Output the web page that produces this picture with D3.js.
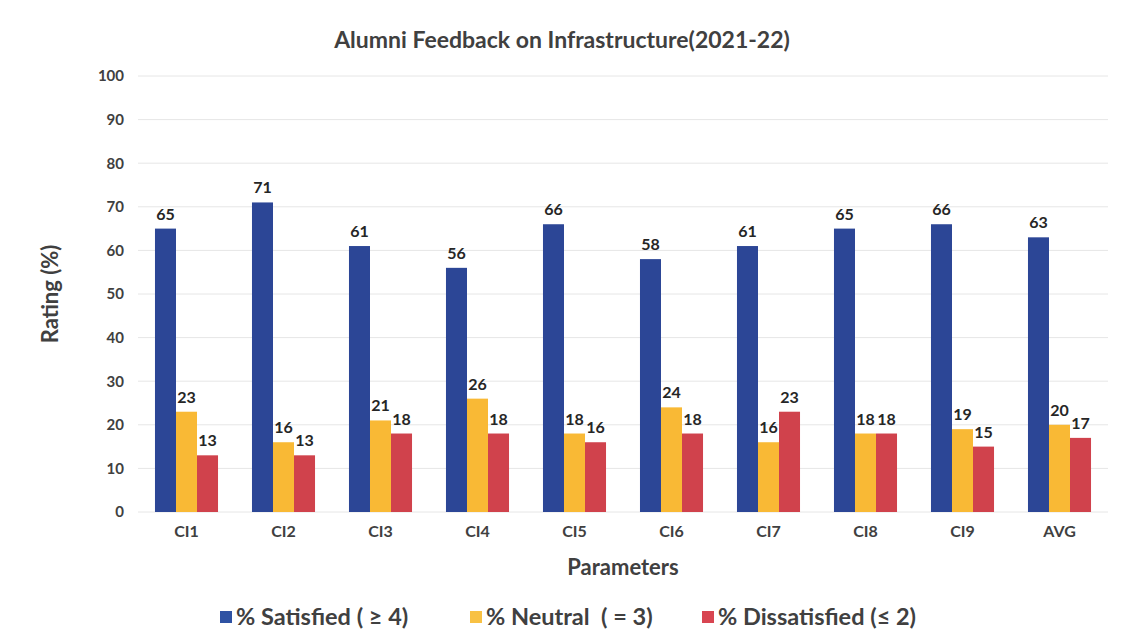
<!DOCTYPE html>
<html>
<head>
<meta charset="utf-8">
<script src="https://cdn.jsdelivr.net/npm/d3@7"></script>
<style>
  body { margin: 0; background: #fff; }
  svg text { font-family: Lato, "Open Sans", sans-serif; }
</style>
</head>
<body>
<svg id="svg0" width="1122" height="643"></svg>
<script>
// chart values
var categories = ['CI1', 'CI2', 'CI3', 'CI4', 'CI5', 'CI6', 'CI7', 'CI8', 'CI9', 'AVG'];
var satisfied = [65, 71, 61, 56, 66, 58, 61, 65, 66, 63];
var neutral = [23, 16, 21, 26, 18, 24, 16, 18, 19, 20];
var dissatisfied = [13, 13, 18, 18, 16, 18, 23, 18, 15, 17];
var seriesNames = ['% Satisfied ( \u2265 4)', '% Neutral  ( = 3)', '% Dissatisfied (\u2264 2)'];
var yTicks = [0, 10, 20, 30, 40, 50, 60, 70, 80, 90, 100];

var colors = ['#2c4696', '#f9b935', '#d0424c'];
var legendColors = ['#2f52a3', '#f8c144', '#d84551'];

var svg0 = d3.select('#svg0');

var series = [satisfied, neutral, dissatisfied];

var x = d3.scaleBand()
    .domain(categories)
    .range([138, 1108])
    .paddingInner(0.35)
    .paddingOuter(0.175);

var xInner = d3.scaleBand()
    .domain([0, 1, 2])
    .range([0, x.bandwidth()]);

var y = d3.scaleLinear()
    .domain([0, 100])
    .range([512, 76]);

// gridlines
svg0.append('g')
    .selectAll('line')
    .data(yTicks)
    .enter()
    .append('line')
    .attr('x1', 138)
    .attr('x2', 1108)
    .attr('y1', function(d){ return y(d); })
    .attr('y2', function(d){ return y(d); })
    .attr('stroke', '#e6e6e6')
    .attr('stroke-width', 1);

// y axis (labels only)
var yAxis = d3.axisLeft(y)
    .tickValues(yTicks)
    .tickSize(0)
    .tickPadding(0);

var yg = svg0.append('g')
    .attr('transform', 'translate(124,0)')
    .call(yAxis);
yg.select('.domain').remove();
yg.selectAll('text')
    .attr('font-size', 15)
    .attr('font-weight', 'bold')
    .attr('fill', '#404040')
    .style('font-family', 'Lato, sans-serif');

// x axis (labels only)
var xAxis = d3.axisBottom(x)
    .tickSize(0)
    .tickPadding(0);

var xg = svg0.append('g')
    .attr('transform', 'translate(0,526)')
    .call(xAxis);
xg.select('.domain').remove();
xg.selectAll('text')
    .attr('font-size', 16)
    .attr('font-weight', 'bold')
    .attr('fill', '#404040')
    .style('font-family', 'Lato, sans-serif');

// bars
var groups = svg0.append('g')
    .selectAll('g')
    .data(categories)
    .enter()
    .append('g')
    .attr('transform', function(d){ return 'translate(' + x(d) + ',0)'; });

groups.selectAll('rect')
    .data(function(d, i){ return series.map(function(s, k){ return {k: k, v: s[i]}; }); })
    .enter()
    .append('rect')
    .attr('x', function(d){ return xInner(d.k); })
    .attr('y', function(d){ return y(d.v); })
    .attr('width', xInner.bandwidth())
    .attr('height', function(d){ return y(0) - y(d.v); })
    .attr('fill', function(d){ return colors[d.k]; });

groups.selectAll('text')
    .data(function(d, i){ return series.map(function(s, k){ return {k: k, v: s[i]}; }); })
    .enter()
    .append('text')
    .attr('x', function(d){ return xInner(d.k) + xInner.bandwidth() / 2; })
    .attr('y', function(d){ return y(d.v) - 9; })
    .attr('text-anchor', 'middle')
    .attr('font-size', 16)
    .attr('font-weight', 'bold')
    .attr('fill', '#262626')
    .text(function(d){ return d.v; });

// title
svg0.append('text')
    .attr('x', 562)
    .attr('y', 48)
    .attr('text-anchor', 'middle')
    .attr('font-size', 23)
    .attr('font-weight', 'bold')
    .attr('fill', '#404040')
    .text('Alumni Feedback on Infrastructure(2021-22)');

// axis titles
svg0.append('text')
    .attr('transform', 'translate(58,' + y(50) + ') rotate(-90)')
    .attr('text-anchor', 'middle')
    .attr('font-size', 22)
    .attr('font-weight', 'bold')
    .attr('fill', '#404040')
    .text('Rating (%)');

svg0.append('text')
    .attr('x', (138 + 1108) / 2)
    .attr('y', 575)
    .attr('text-anchor', 'middle')
    .attr('font-size', 22)
    .attr('font-weight', 'bold')
    .attr('fill', '#404040')
    .text('Parameters');

// legend
var legendX = [220, 470, 702];
var legend = svg0.append('g')
    .selectAll('g')
    .data(seriesNames)
    .enter()
    .append('g')
    .attr('transform', function(d, i){ return 'translate(' + legendX[i] + ',611)'; });

legend.append('rect')
    .attr('x', 0)
    .attr('y', 0)
    .attr('width', 12)
    .attr('height', 12)
    .attr('fill', function(d, i){ return legendColors[i]; });

legend.append('text')
    .attr('x', 16)
    .attr('y', 14)
    .attr('font-size', 23.5)
    .attr('font-weight', 'bold')
    .attr('fill', '#404040')
    .style('white-space', 'pre')
    .text(function(d){ return d; });
</script>
</body>
</html>
